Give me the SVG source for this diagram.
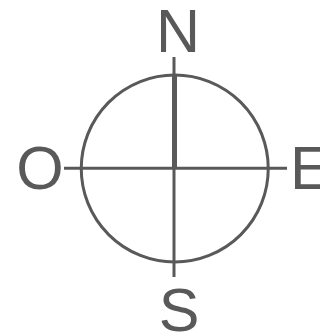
<svg xmlns="http://www.w3.org/2000/svg" width="320" height="332" viewBox="0 0 320 332">
<style>
.ln{stroke:#595959;fill:none;stroke-width:3}
.lb{font-family:"Liberation Sans",Arial,sans-serif;font-size:61px;fill:#595959}
</style>
<rect width="320" height="332" fill="#fff"/>
<g id="compass">
<circle class="ln" cx="174.75" cy="168.5" r="93.5"/>
</g>
<g id="connectors">
<line class="ln" x1="174" y1="57" x2="174" y2="277"/>
<line class="ln" x1="64" y1="168.3" x2="287" y2="168.3"/>
<line class="ln" x1="174.5" y1="75" x2="174.5" y2="167" style="stroke-width:5"/>
</g>
<g id="label-N"><text class="lb" x="178" y="52" text-anchor="middle">N</text></g>
<g id="label-O"><text class="lb" x="40" y="189" text-anchor="middle">O</text></g>
<g id="label-E"><text class="lb" x="290" y="189">E</text></g>
<g id="label-S"><text class="lb" x="179" y="331" text-anchor="middle">S</text></g>
</svg>
